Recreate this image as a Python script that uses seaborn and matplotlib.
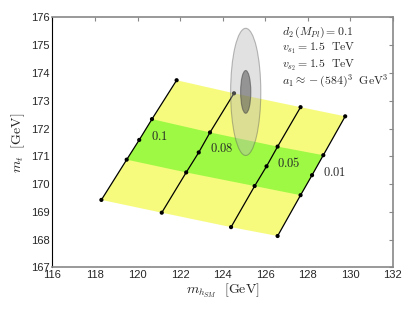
import numpy as np
import pandas as pd
import matplotlib
matplotlib.use("Agg")
import matplotlib.pyplot as plt
from matplotlib.patches import Ellipse, Polygon
import seaborn as sns

sns.set_style("white")
plt.rcParams['font.family'] = ['Liberation Sans', 'DejaVu Sans']
plt.rcParams['mathtext.fontset'] = 'cm'

# lambda values and the 5 points along each line (bottom -> top)
labels = ['0.1', '0.08', '0.05', '0.01']
mh_01 = [118.30, 119.49, 120.08, 120.68, 121.84]
mt_01 = [169.43, 170.88, 171.59, 172.34, 173.74]
mh_008 = [121.14, 122.29, 122.88, 123.41, 124.54]
mt_008 = [168.97, 170.42, 171.14, 171.86, 173.27]
mh_005 = [124.40, 125.51, 126.07, 126.59, 127.67]
mt_005 = [168.45, 169.93, 170.64, 171.35, 172.77]
mh_001 = [126.59, 127.67, 128.21, 128.74, 129.77]
mt_001 = [168.13, 169.60, 170.32, 171.04, 172.44]

# experimental value (inner / outer region half widths)
mh_exp, mt_exp = 125.09, 173.32
mh_err, mt_err = 0.24, 0.77
mh_err2, mt_err2 = 0.71, 2.29

# label anchor positions (left edge, vertical centre)
lab_x = [120.62, 123.40, 126.57, 128.71]
lab_y = [171.71, 171.28, 170.75, 170.42]

mh_all = [mh_01, mh_008, mh_005, mh_001]
mt_all = [mt_01, mt_008, mt_005, mt_001]

rows = []
for lab, xs, ys in zip(labels, mh_all, mt_all):
    for i, (x, y) in enumerate(zip(xs, ys)):
        rows.append({'lam': lab, 'idx': i, 'mh': x, 'mt': y})
df = pd.DataFrame(rows)

fig = plt.figure(figsize=(4.15, 3.12), dpi=100)
ax = fig.add_axes([0.1265, 0.143, 0.8195, 0.801])

# bands
yel = '#f6fb7e'
grn = '#9ef944'
def band(i0, i1, color):
    lo = df[df['idx'] == i0].sort_values('mh')
    hi = df[df['idx'] == i1].sort_values('mh', ascending=False)
    pts = np.vstack([lo[['mh', 'mt']].values, hi[['mh', 'mt']].values])
    ax.add_patch(Polygon(pts, closed=True, facecolor=color, edgecolor='none', zorder=1))
band(0, 4, yel)
band(1, 3, grn)

sns.lineplot(data=df, x='mh', y='mt', units='lam', estimator=None, sort=False,
             color='black', lw=0.9, ax=ax, zorder=3)
sns.scatterplot(data=df, x='mh', y='mt', color='black', s=9, edgecolor='none', ax=ax, zorder=4)

ax.add_patch(Ellipse((mh_exp, mt_exp), 2 * mh_err2, 2 * mt_err2, facecolor='#b5b5b5',
                     alpha=0.4, edgecolor='#555555', lw=0.8, zorder=5))
ax.add_patch(Ellipse((mh_exp, mt_exp), 2 * mh_err, 2 * mt_err, facecolor='#555555',
                     alpha=0.55, edgecolor='#444444', lw=0.8, zorder=6))

# line labels
for lab, x, y in zip(labels, lab_x, lab_y):
    ax.text(x, y, '$' + lab + '$', fontsize=9, va='center', ha='left', zorder=7)

txt = [r'$d_2\,(M_{Pl}) = 0.1$', r'$v_{s_1} = 1.5\ \ \mathrm{TeV}$',
       r'$v_{s_2} = 1.5\ \ \mathrm{TeV}$', r'$a_1 \approx -(584)^3\ \ \mathrm{GeV}^3$']
for k, t in enumerate(txt):
    ax.text(126.78, 175.47 - 0.59 * k, t, fontsize=8.5, va='center', zorder=7)

ax.set_xlim(116, 132)
ax.set_ylim(167, 176)
ax.set_xticks(np.arange(116, 133, 2))
ax.set_yticks(np.arange(167, 177, 1))
ax.set_xlabel(r'$m_{h_{SM}}\ \ \mathrm{[GeV]}$', fontsize=10, labelpad=1)
ax.set_ylabel(r'$m_t\ \ \mathrm{[GeV]}$', fontsize=10, labelpad=3)
ax.tick_params(direction='in', length=3, color='#888888', labelsize=8, pad=2,
               top=True, right=True)
for s in ['top', 'right', 'bottom']:
    ax.spines[s].set_color('#888888')
    ax.spines[s].set_linewidth(1.2)
ax.spines['left'].set_color('black')
ax.spines['left'].set_linewidth(0.8)

fig.savefig('out.png', dpi=100)
